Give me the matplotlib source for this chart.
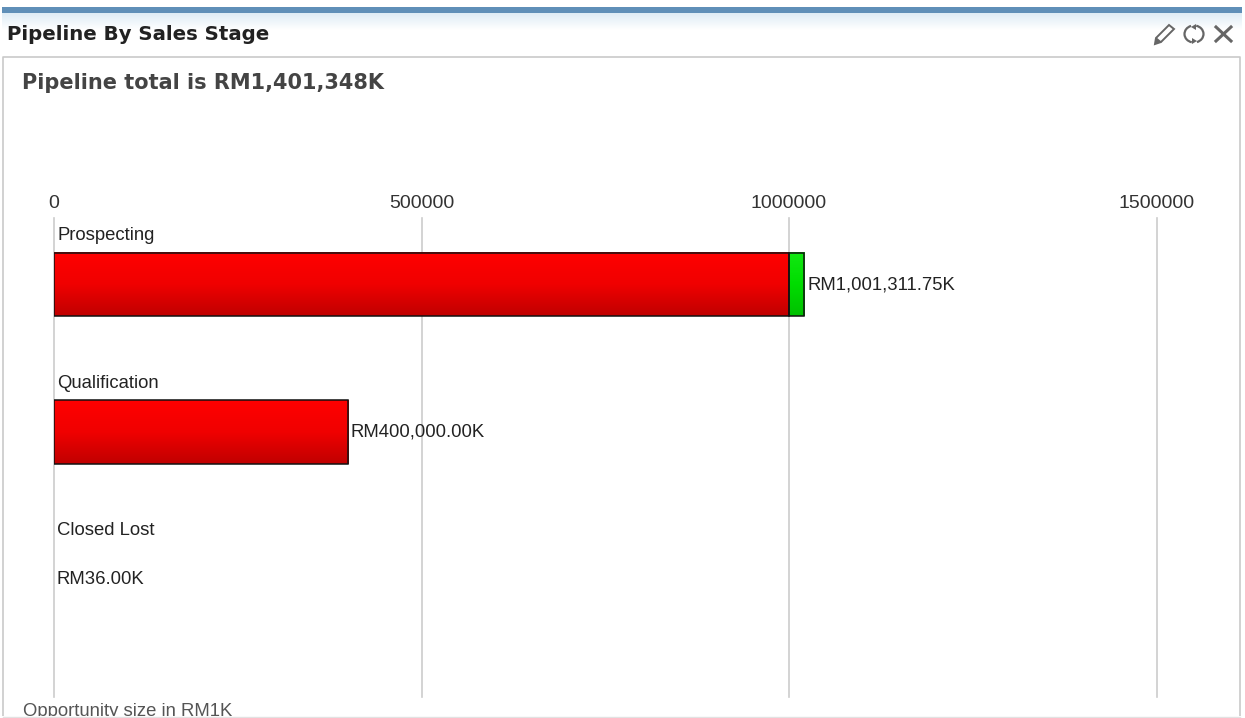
#!/usr/bin/env python3
"""
Pipeline By Sales Stage dashboard panel
Horizontal stacked bars with a total headline and panel header
"""

import numpy as np
import matplotlib
matplotlib.use("Agg")
import matplotlib.pyplot as plt
from matplotlib.colors import LinearSegmentedColormap
from matplotlib.patches import Arc, Polygon, Rectangle

W, H = 1245, 718

stages = ["Prospecting", "Qualification", "Closed Lost"]
red_values = [1000000.00, 400000.00, 36.00]
green_values = [1311.75, 0.00, 0.00]
value_labels = ["RM1,001,311.75K", "RM400,000.00K", "RM36.00K"]
x_ticks = [0, 500000, 1000000, 1500000]

panel_title = "Pipeline By Sales Stage"
headline = "Pipeline total is RM1,401,348K"
axis_note = "Opportunity size in RM1K"

# very small segments still get a visible sliver, small values get no bar at all
MIN_SEGMENT = 20800
MIN_BAR = 1000

plt.rcParams["font.family"] = ["Liberation Sans", "DejaVu Sans"]

red_map = LinearSegmentedColormap.from_list("bar_red", ["#ff0000", "#f00000", "#c00000"])
green_map = LinearSegmentedColormap.from_list("bar_green", ["#12e812", "#00dd00", "#00c000"])

fig = plt.figure(figsize=(W / 100, H / 100), dpi=100, facecolor="white")

# header and panel frame, laid out in pixels
chrome = fig.add_axes([0, 0, 1, 1], zorder=0)
chrome.set_xlim(0, W)
chrome.set_ylim(H, 0)
chrome.axis("off")

shade = np.linspace(0, 1, 64).reshape(-1, 1)
header_map = LinearSegmentedColormap.from_list("header", ["#dcebf5", "#ffffff"])
chrome.imshow(shade, extent=(2, 1242, 30, 12), cmap=header_map, aspect="auto", zorder=1)
chrome.add_patch(Rectangle((2, 7), 1240, 5.5, color="#5f8fb8", lw=0, zorder=2))
chrome.plot([3, 3, 1240, 1240], [718, 57, 57, 718], color="#c9c9c9", lw=1.2, zorder=2)
chrome.set_xlim(0, W)
chrome.set_ylim(H, 0)

chrome.text(7, 35, panel_title, fontsize=14.2, fontweight="bold", family="DejaVu Sans",
            color="#222222", va="center")
chrome.text(22, 83, headline, fontsize=15, fontweight="bold", family="DejaVu Sans",
            color="#444444", va="center")
chrome.text(23, 711, axis_note, fontsize=13.3, color="#555555", va="center")

# the note runs into the bottom edge of the panel
chrome.add_patch(Rectangle((0, 716), W, 3, color="white", lw=0, zorder=4))
chrome.plot([3, 1240], [716.5, 716.5], color="#e2e2e2", lw=1, zorder=5)

# header icons: pencil, refresh, close
icon_color = "#666666"
chrome.add_patch(Polygon([(1156, 38), (1169, 25), (1174, 29), (1161, 42), (1155, 44)],
                         closed=True, fc="white", ec=icon_color, lw=1.4, zorder=3))
chrome.add_patch(Polygon([(1155, 44), (1156, 37), (1162, 42)], closed=True, color=icon_color, lw=0, zorder=3))
chrome.add_patch(Arc((1194, 34), 19, 17, theta1=105, theta2=250, color=icon_color, lw=1.6, zorder=3))
chrome.add_patch(Arc((1194, 34), 19, 17, theta1=285, theta2=70, color=icon_color, lw=1.6, zorder=3))
chrome.add_patch(Polygon([(1196, 24), (1191, 27), (1196, 30)], closed=True, color=icon_color, lw=0, zorder=3))
chrome.add_patch(Polygon([(1192, 38), (1197, 41), (1192, 44)], closed=True, color=icon_color, lw=0, zorder=3))
chrome.plot([1216, 1231], [27, 41], color=icon_color, lw=2.2, zorder=3)
chrome.plot([1231, 1216], [27, 41], color=icon_color, lw=2.2, zorder=3)

# plot area: x 54..1156.5 px, y 218..697 px
ax = fig.add_axes([54 / W, 1 - 697 / H, (1156.5 - 54) / W, (697 - 218) / H], zorder=1)
ax.patch.set_alpha(0)
ax.set_xlim(0, 1500000)
ax.set_ylim(2.80, -0.452)

for spine in ax.spines.values():
    spine.set_visible(False)
ax.xaxis.tick_top()
ax.set_xticks(x_ticks)
ax.set_xticklabels([str(t) for t in x_ticks], fontsize=14, color="#333333")
ax.tick_params(axis="x", length=0, pad=4.5)
ax.set_yticks([])
ax.grid(axis="x", color="#cccccc", lw=1.2, zorder=0)
for gridline in ax.get_xgridlines():
    gridline.set_clip_on(False)
ax.set_axisbelow(True)


def gradient_bar(left, width, row, cmap):
    """Horizontal bar with a vertical gradient fill and a black outline"""
    bar = ax.barh(row, width, left=left, height=0.43, facecolor="none",
                  edgecolor="#111111", linewidth=1.1, zorder=4)[0]
    ax.imshow(shade, extent=(left, left + width, row + 0.215, row - 0.215), cmap=cmap,
              aspect="auto", zorder=3)
    return bar


positions = np.arange(len(stages))
for row, stage, red, green, label in zip(positions, stages, red_values, green_values, value_labels):
    end = 0
    if red >= MIN_BAR:
        gradient_bar(0, red, row, red_map)
        end = red
    if green > 0:
        sliver = max(green, MIN_SEGMENT)
        gradient_bar(end, sliver, row, green_map)
        end += sliver

    ax.annotate(stage, (0, row), xytext=(2.5, 35), textcoords="offset points",
                fontsize=13.3, color="#222222", va="center", ha="left", zorder=5)
    ax.annotate(label, (end, row), xytext=(2, 0), textcoords="offset points",
                fontsize=13.3, color="#222222", va="center", ha="left", zorder=5)

ax.set_xlim(0, 1500000)
ax.set_ylim(2.80, -0.452)

fig.savefig("out.png", dpi=100, facecolor="white")
